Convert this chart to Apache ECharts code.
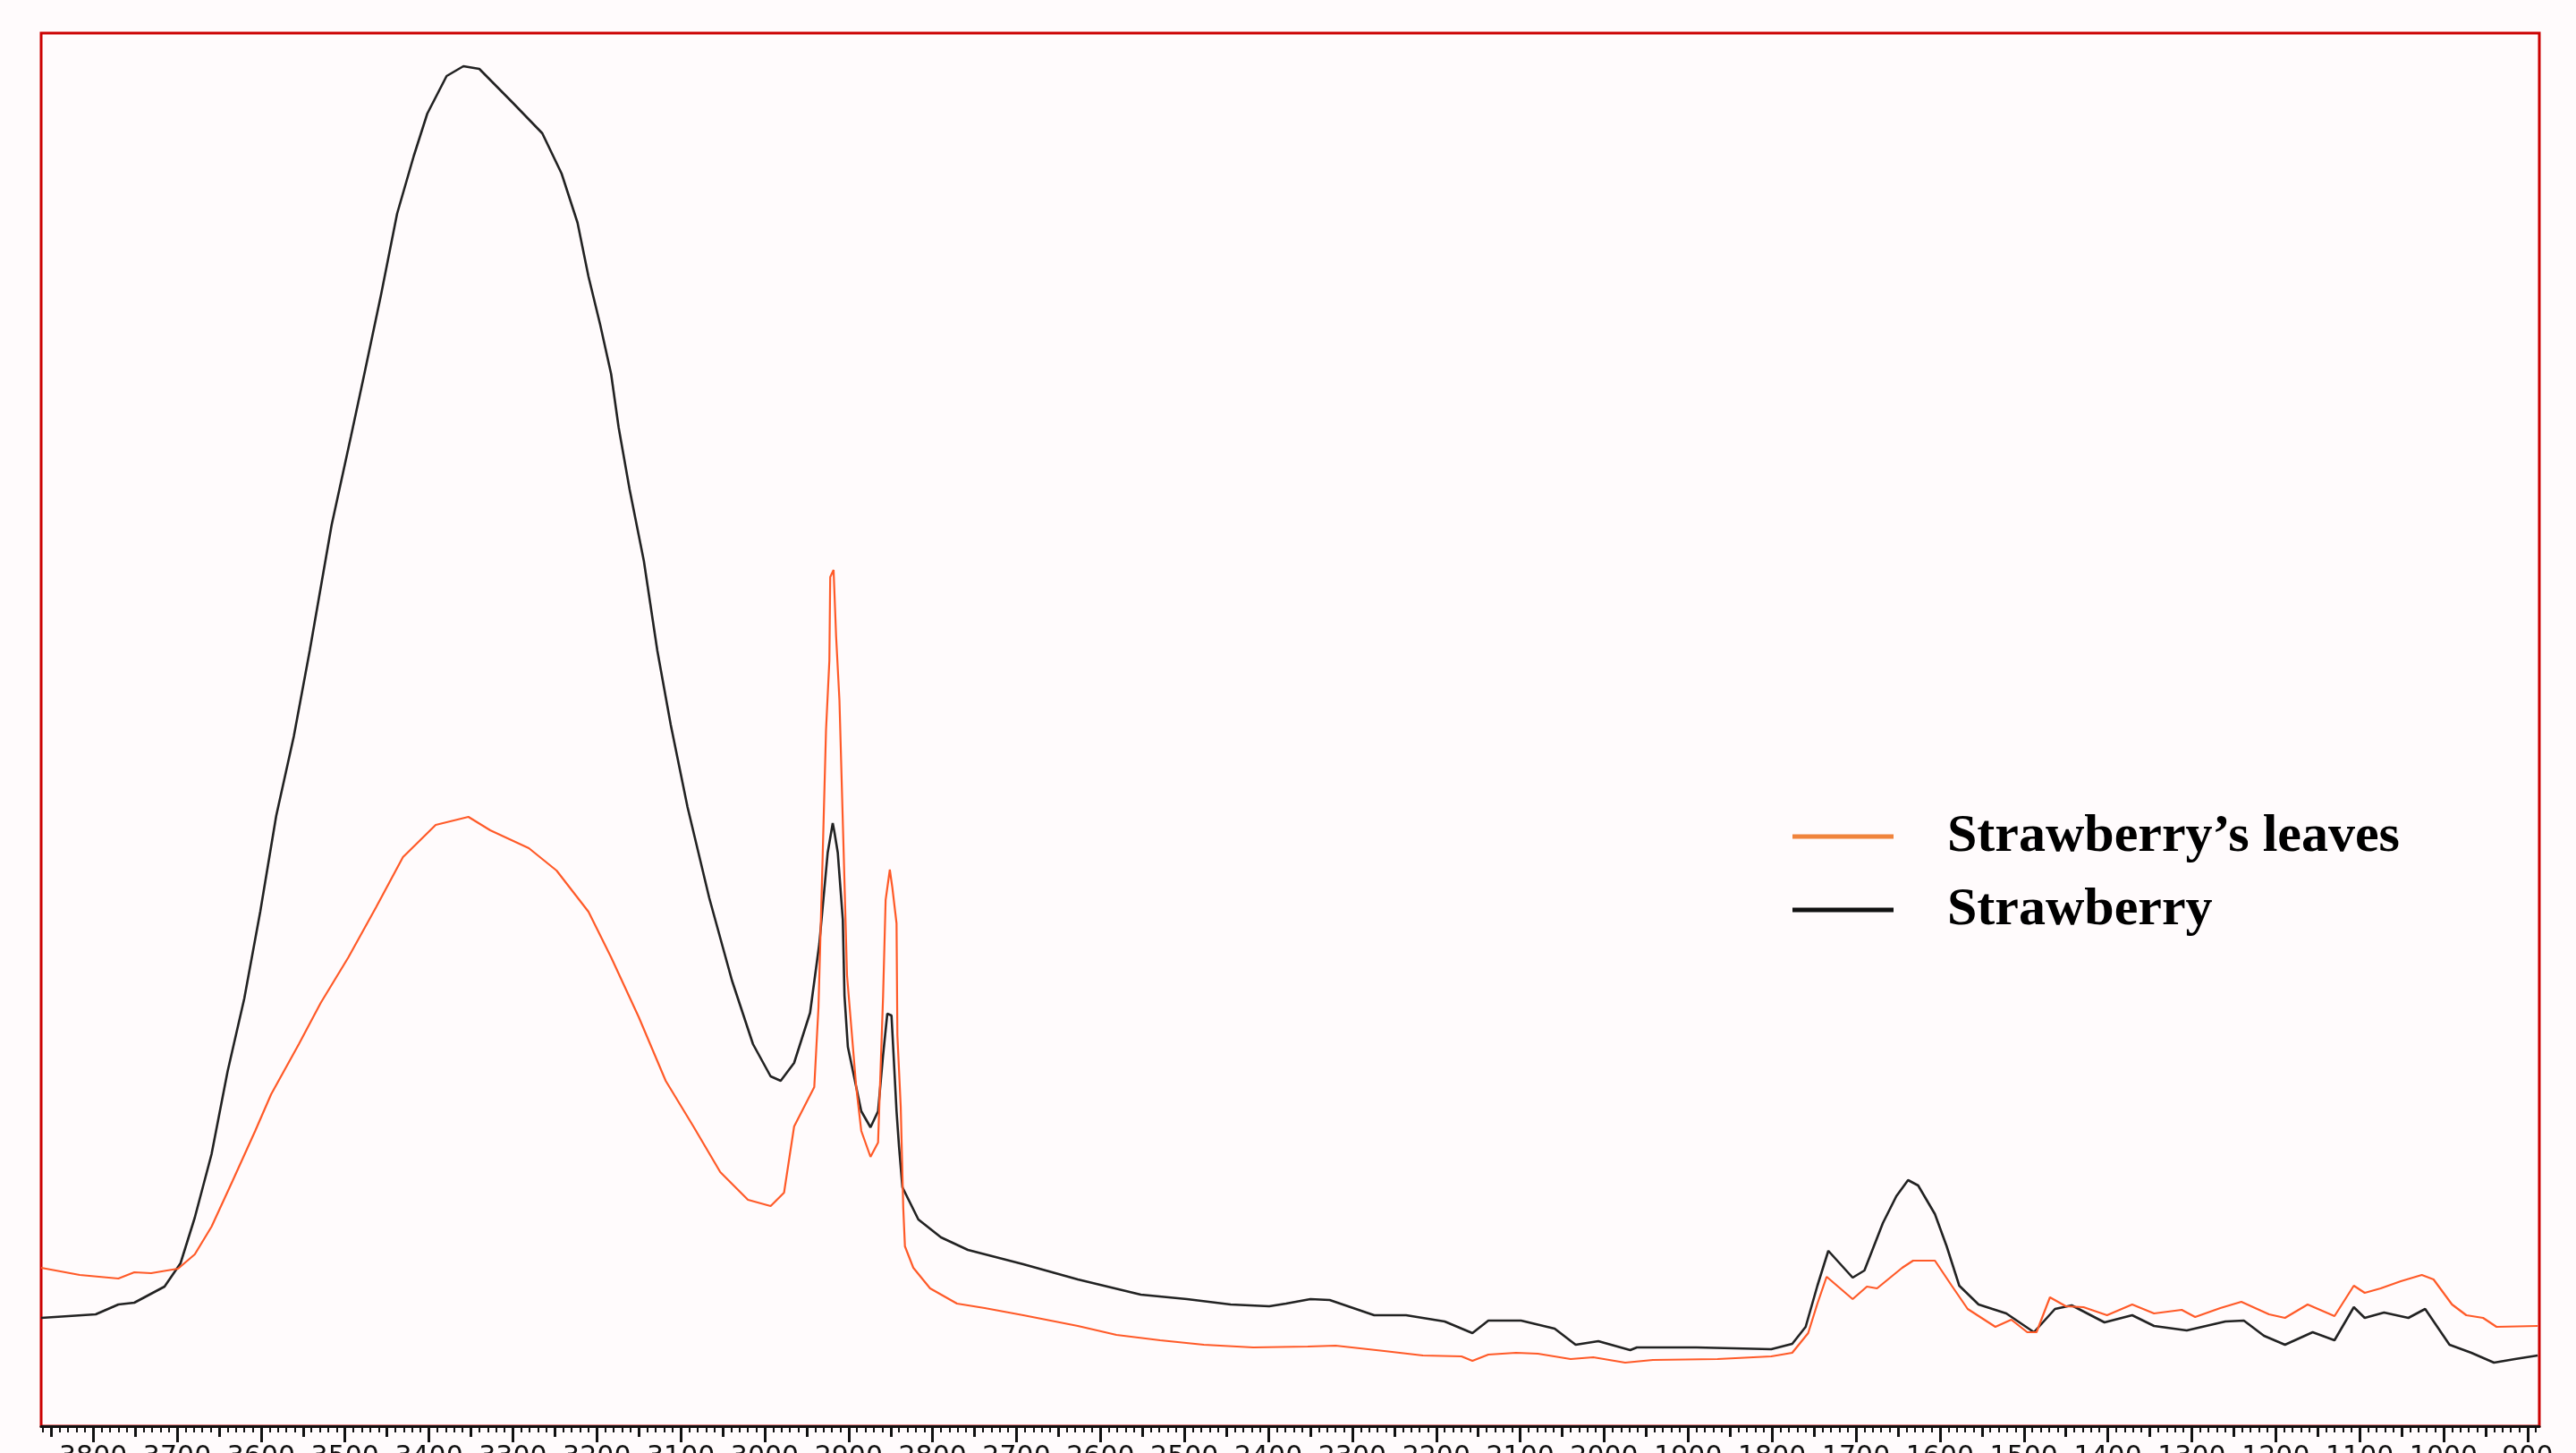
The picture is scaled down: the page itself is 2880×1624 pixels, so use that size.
<!DOCTYPE html>
<html>
<head>
<meta charset="utf-8">
<script src="https://cdn.jsdelivr.net/npm/echarts@6/dist/echarts.min.js"></script>
<style>
html,body{margin:0;padding:0;background:#fffbfc;}
#chart{width:2880px;height:1624px;}
</style>
</head>
<body>
<div id="chart"></div>
<script>
// Wavenumber (cm-1) and absorbance (arbitrary units)
const strawberryWn = [3862,3797,3770,3751,3715,3696,3679,3659,3640,3620,3601,3582,3561,3542,3516,3493,3477,3457,3438,3418,3402,3379,3359,3340,3300,3265,3242,3223,3210,3196,3183,3174,3161,3144,3128,3112,3092,3066,3039,3014,2993,2981,2965,2946,2935,2925,2919,2917,2913,2907,2905,2901,2891,2885,2874,2865,2859,2854,2849,2843,2840,2836,2817,2790,2758,2692,2627,2552,2497,2445,2399,2379,2350,2327,2274,2236,2190,2157,2138,2099,2059,2034,2007,1969,1961,1890,1801,1776,1760,1746,1733,1704,1690,1668,1652,1638,1626,1606,1592,1577,1554,1521,1488,1463,1443,1404,1371,1345,1306,1260,1238,1214,1189,1156,1130,1107,1094,1071,1042,1022,993,967,940,915,888];
const strawberryVal = [12.1,12.5,13.6,13.8,15.6,18.2,23.3,30.4,39.6,47.8,57.5,68.2,77.1,86.7,100.7,110.6,117.6,126.5,135.5,142.0,146.7,150.9,152.0,151.7,147.9,144.5,140.0,134.5,128.5,123.1,117.6,111.6,104.7,96.7,86.7,78.4,69.2,59.0,49.8,42.7,39.1,38.6,40.6,46.2,53.9,64.1,67.4,66.4,64.1,56.6,48.1,42.4,37.9,35.2,33.4,35.2,41.5,46.1,45.9,35.2,31.2,26.7,23.1,21.1,19.7,18.1,16.4,14.7,14.2,13.6,13.4,13.7,14.2,14.1,12.4,12.4,11.7,10.4,11.8,11.8,10.9,9.1,9.5,8.5,8.8,8.8,8.6,9.2,11.1,15.7,19.6,16.6,17.4,22.7,25.7,27.5,26.9,23.7,20.1,15.7,13.6,12.6,10.5,13.1,13.5,11.6,12.4,11.2,10.7,11.7,11.8,10.1,9.1,10.5,9.6,13.3,12.1,12.7,12.1,13.1,9.1,8.2,7.1,7.5,7.9];

const leavesWn = [3862,3816,3770,3751,3731,3712,3699,3679,3659,3634,3607,3588,3555,3529,3496,3463,3431,3392,3353,3327,3281,3248,3210,3183,3150,3118,3085,3053,3020,2993,2977,2965,2941,2936,2931,2927,2923,2922,2918,2915,2911,2906,2902,2891,2885,2874,2865,2859,2856,2851,2848,2843,2842,2838,2835,2833,2823,2803,2771,2738,2692,2627,2581,2529,2477,2418,2353,2320,2262,2216,2170,2157,2138,2105,2079,2040,2013,1975,1942,1865,1801,1776,1757,1746,1735,1704,1687,1675,1645,1632,1606,1586,1567,1534,1515,1496,1485,1469,1450,1429,1401,1371,1345,1312,1296,1266,1241,1208,1189,1162,1130,1107,1094,1075,1051,1026,1012,990,973,953,937,888];
const leavesVal = [17.7,16.9,16.5,17.2,17.1,17.4,17.6,19.2,22.3,27.4,33.0,37.1,42.7,47.3,52.4,58.0,63.6,67.2,68.1,66.6,64.6,62.1,57.5,52.4,45.7,38.6,33.5,28.4,25.3,24.6,26.1,33.5,37.9,46.8,63.7,77.8,85.6,94.9,95.7,88.3,81.1,64.2,50.4,37.9,33.0,30.1,31.7,48.1,58.8,62.2,60.2,56.2,43.7,35.7,24.4,20.1,17.7,15.4,13.7,13.2,12.4,11.2,10.2,9.6,9.1,8.8,8.9,9.0,8.4,7.9,7.8,7.3,8.0,8.2,8.1,7.5,7.7,7.1,7.4,7.5,7.8,8.2,10.4,13.7,16.7,14.2,15.6,15.4,17.7,18.5,18.5,15.7,13.1,11.1,11.9,10.5,10.5,14.4,13.4,13.3,12.4,13.6,12.6,13.0,12.2,13.2,13.9,12.5,12.1,13.6,12.3,15.7,14.9,15.4,16.2,16.9,16.4,13.6,12.4,12.1,11.1,11.2];

const seriesNames = ["Strawberry\u2019s leaves", "Strawberry"];

const majorTicks = [];
for (let v = 900; v <= 3800; v += 100) majorTicks.push(v);
const midTicks = [];
for (let v = 950; v <= 3850; v += 100) midTicks.push(v);
const minorTicks = [];
for (let v = 890; v <= 3860; v += 10) if (v % 50 !== 0) minorTicks.push(v);

const zip = (a, b) => a.map((x, i) => [x, b[i]]);

const X_MIN = 886, X_MAX = 3862;
function baseAxis(extra) {
  return Object.assign({
    type: 'value', min: X_MIN, max: X_MAX, inverse: true, position: 'bottom', offset: 0,
    gridIndex: 0, splitLine: { show: false }, axisLine: { show: false },
    axisLabel: { show: false }
  }, extra);
}

const chart = echarts.init(document.getElementById('chart'), null, { renderer: 'canvas' });
chart.setOption({
  backgroundColor: '#fffbfc',
  animation: false,
  grid: {
    left: 46, right: 41, top: 37, bottom: 30,
    containLabel: false, outerBoundsMode: 'none',
    show: true, borderColor: '#cc0000', borderWidth: 3, backgroundColor: '#fffbfc'
  },
  legend: {
    orient: 'vertical', left: 1999, top: 900, itemGap: 22,
    itemWidth: 113, itemHeight: 5,
    textStyle: { fontFamily: 'Liberation Serif', fontWeight: 'bold', fontSize: 60, color: '#000', padding: [0, 0, 0, 55] },
    data: [
      { name: seriesNames[0], icon: 'rect', itemStyle: { color: '#f0843c' } },
      { name: seriesNames[1], icon: 'rect', itemStyle: { color: '#111111' } }
    ]
  },
  xAxis: [
    baseAxis({
      axisLine: { show: true, lineStyle: { color: '#111', width: 3 } },
      axisTick: { show: true, customValues: majorTicks, length: 18, lineStyle: { color: '#111', width: 3 } },
      axisLabel: { show: true, customValues: majorTicks, margin: 20, fontFamily: 'DejaVu Sans', fontSize: 30, color: '#111',
        formatter: v => String(v) }
    }),
    baseAxis({ axisTick: { show: true, customValues: midTicks, length: 12, lineStyle: { color: '#111', width: 3 } } }),
    baseAxis({ axisTick: { show: true, customValues: minorTicks, length: 7, lineStyle: { color: '#111', width: 2 } } })
  ],
  yAxis: { type: 'value', min: 0, max: 155.7, show: false, splitLine: { show: false } },
  series: [
    {
      name: seriesNames[0], type: 'line', data: zip(leavesWn, leavesVal), symbol: 'none',
      lineStyle: { color: '#ff5a28', width: 2.2 }, itemStyle: { color: '#f0843c' }, z: 3
    },
    {
      name: seriesNames[1], type: 'line', data: zip(strawberryWn, strawberryVal), symbol: 'none',
      lineStyle: { color: '#222', width: 2.6 }, itemStyle: { color: '#111' }, z: 2
    }
  ]
});
</script>
</body>
</html>
